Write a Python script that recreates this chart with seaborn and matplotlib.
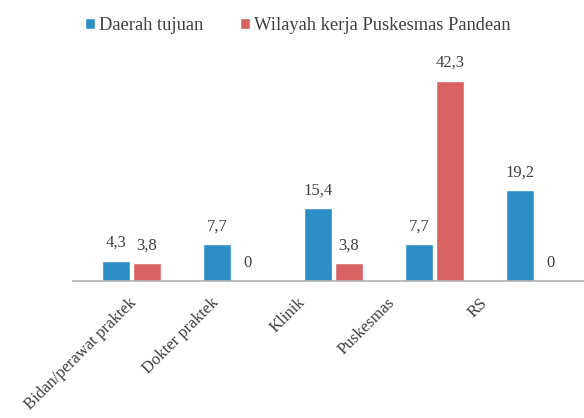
import pandas as pd
import matplotlib.pyplot as plt
import matplotlib.transforms as mtransforms
import seaborn as sns

# data
kategori = ['Bidan/perawat praktek', 'Dokter praktek', 'Klinik', 'Puskesmas', 'RS']
daerah_tujuan = [4.3, 7.7, 15.4, 7.7, 19.2]
wilayah_pandean = [3.8, 0, 3.8, 42.3, 0]
seri = ['Daerah tujuan', 'Wilayah kerja Puskesmas Pandean']
warna = ['#2E8FC7', '#D96263']

df = pd.DataFrame({
    'kategori': kategori * 2,
    'nilai': daerah_tujuan + wilayah_pandean,
    'seri': [seri[0]] * len(kategori) + [seri[1]] * len(kategori),
})

sns.set_style('white')
plt.rcParams['font.family'] = ['Liberation Serif', 'DejaVu Serif']

fig = plt.figure(figsize=(5.84, 4.18), dpi=100)
ax = fig.add_axes([0.125, 0.328, 0.875, 0.51])

sns.barplot(data=df, x='kategori', y='nilai', hue='seri', palette=warna,
            width=0.6, gap=0.08, saturation=1, ax=ax, legend=True)

# label nilai
for cont in ax.containers:
    labels = [('0' if v == 0 else f'{v:.1f}'.replace('.', ',')) for v in cont.datavalues]
    ax.bar_label(cont, labels=labels, padding=7, fontsize=12, color='#404040')

ax.set_ylim(0, 45)
ax.set_xlim(-0.58, 4.48)
ax.set_xlabel('')
ax.set_ylabel('')
ax.set_yticks([])
for s in ['top', 'right', 'left']:
    ax.spines[s].set_visible(False)
ax.spines['bottom'].set_color('#B0B0B0')
ax.spines['bottom'].set_linewidth(1.2)
ax.tick_params(axis='x', length=0, pad=10)
plt.setp(ax.get_xticklabels(), rotation=45, ha='right', rotation_mode='anchor',
         fontsize=12, color='#404040')
# label kategori bergeser ke kiri (seperti di gambar asli)
geser = [0.03, 0.22, 0.36, 0.48, 0.56]
for g, lbl in zip(geser, ax.get_xticklabels()):
    lbl.set_transform(lbl.get_transform() +
                      mtransforms.ScaledTranslation(-g, 0, fig.dpi_scale_trans))

ax.legend(loc='upper center', bbox_to_anchor=(0.44, 1.315), ncol=2, frameon=False,
          prop={'family': 'Liberation Serif', 'size': 13.3}, handlelength=0.55,
          handleheight=0.55, handletextpad=0.2, columnspacing=2.0, labelcolor='#404040')

fig.savefig('out.png', dpi=100)
